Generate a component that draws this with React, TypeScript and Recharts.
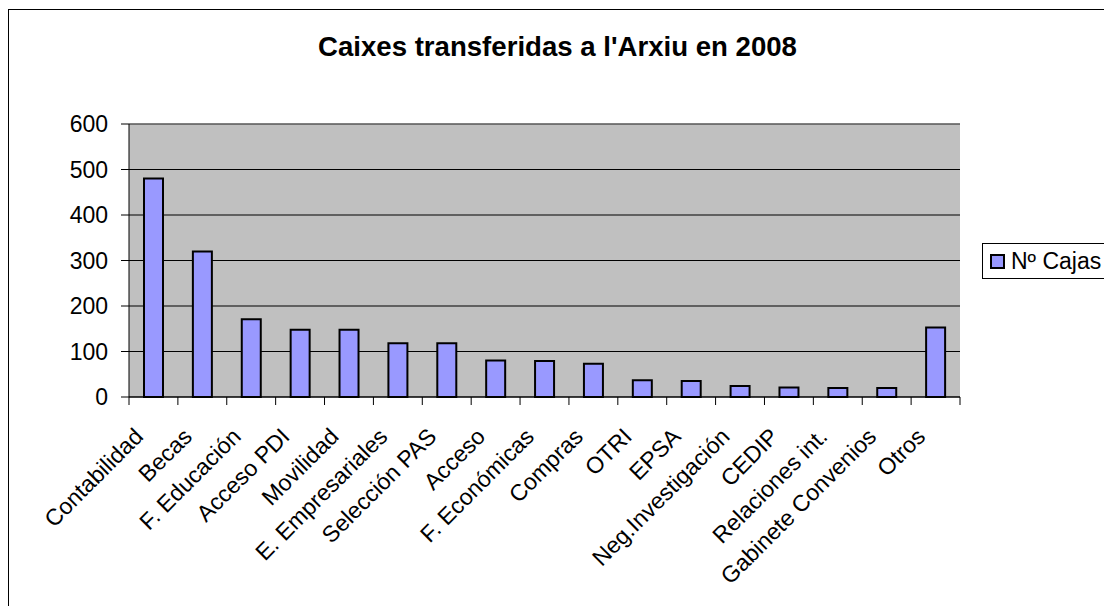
import { Bar, BarChart, CartesianGrid, Legend, ReferenceLine, XAxis, YAxis } from "recharts";

const categories = [
  "Contabilidad",
  "Becas",
  "F. Educación",
  "Acceso PDI",
  "Movilidad",
  "E. Empresariales",
  "Selección PAS",
  "Acceso",
  "F. Económicas",
  "Compras",
  "OTRI",
  "EPSA",
  "Neg.Investigación",
  "CEDIP",
  "Relaciones int.",
  "Gabinete Convenios",
  "Otros",
];
const cajas = [480, 320, 171, 148, 148, 118, 118, 80, 79, 73, 37, 35, 24, 21, 20, 20, 153];
const yTicks = [0, 100, 200, 300, 400, 500, 600];
const seriesName = "Nº Cajas";
const title = "Caixes transferidas a l'Arxiu en 2008";

const font = "'Liberation Sans', Arial, sans-serif";
const chartW = 1102;
const chartH = 595;
const margin = { top: 114, right: 151, left: 40, bottom: 18 };
const yAxisW = 80;
const plotW = chartW - margin.left - yAxisW - margin.right;
const halfBand = plotW / categories.length / 2;

const data = categories.map((name, i) => ({ name, cajas: cajas[i] }));

function CategoryTick(props: any) {
  const { x, y, payload, index } = props;
  const isLast = index === categories.length - 1;
  const tx = x - 9;
  const ty = y + 41;
  return (
    <g>
      <line x1={x - halfBand} x2={x - halfBand} y1={y} y2={y + 8} stroke="#000" />
      {isLast && <line x1={x + halfBand} x2={x + halfBand} y1={y} y2={y + 8} stroke="#000" />}
      <text
        x={tx}
        y={ty}
        textAnchor="end"
        fontSize={23}
        fontFamily={font}
        fill="#000"
        transform={`rotate(-45, ${tx}, ${ty})`}
      >
        {payload.value}
      </text>
    </g>
  );
}

function LegendBox() {
  return (
    <div
      style={{
        boxSizing: "border-box",
        width: 129,
        height: 36,
        border: "1px solid #000",
        background: "#fff",
        display: "flex",
        alignItems: "center",
        paddingLeft: 7,
        fontFamily: font,
        fontSize: 23,
        color: "#000",
      }}
    >
      <span
        style={{
          display: "inline-block",
          boxSizing: "border-box",
          width: 15,
          height: 15,
          background: "#9999FF",
          border: "2px solid #000",
          marginRight: 6,
        }}
      />
      {seriesName}
    </div>
  );
}

export default function App() {
  return (
    <div style={{ paddingTop: 1 }}>
      <div
        style={{
          position: "relative",
          width: 1104,
          height: 597,
          borderTop: "1px solid #000",
          borderLeft: "1px solid #000",
          boxSizing: "border-box",
          background: "#fff",
        }}
      >
        <div
          style={{
            position: "absolute",
            left: 0,
            top: 21,
            width: 1097,
            textAlign: "center",
            fontFamily: font,
            fontWeight: "bold",
            fontSize: 27.6,
            color: "#000",
          }}
        >
          {title}
        </div>
        <BarChart width={chartW} height={chartH} data={data} margin={margin} barSize={19}>
          <CartesianGrid vertical={false} stroke="#000" fill="#C0C0C0" />
          <XAxis
            dataKey="name"
            interval={0}
            height={190}
            tickLine={false}
            tickSize={0}
            tickMargin={0}
            axisLine={{ stroke: "#000" }}
            tick={<CategoryTick />}
          />
          <YAxis
            domain={[0, 600]}
            ticks={yTicks}
            width={yAxisW}
            tickSize={8}
            tickMargin={13}
            axisLine={{ stroke: "#000" }}
            tickLine={{ stroke: "#000" }}
            tick={{ fill: "#000", fontSize: 23, fontFamily: font }}
          />
          <YAxis
            yAxisId="frame"
            orientation="right"
            width={0}
            tick={false}
            tickLine={false}
            axisLine={{ stroke: "#808080" }}
          />
          <ReferenceLine y={600} stroke="#808080" />
          <Legend
            layout="horizontal"
            align="center"
            verticalAlign="middle"
            content={() => <LegendBox />}
            wrapperStyle={{ position: "absolute", left: 973, top: 233, width: 129, height: 36 }}
          />
          <Bar
            dataKey="cajas"
            name={seriesName}
            fill="#9999FF"
            stroke="#000"
            strokeWidth={2}
            isAnimationActive={false}
          />
        </BarChart>
      </div>
    </div>
  );
}
